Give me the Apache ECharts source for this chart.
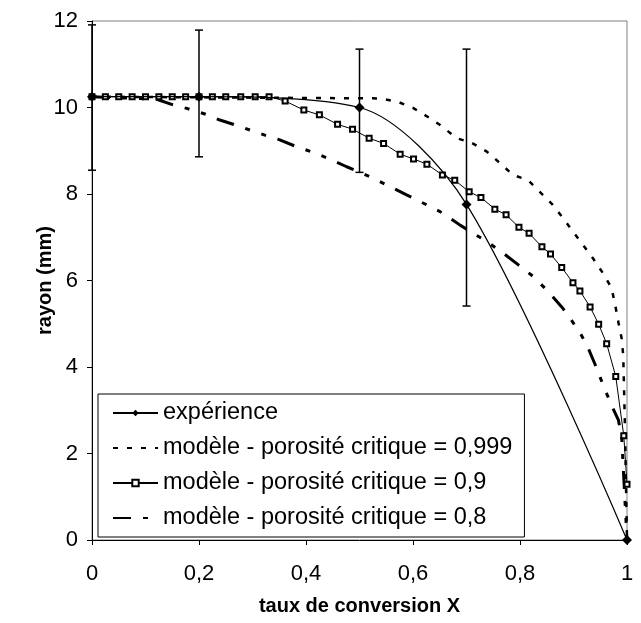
<!DOCTYPE html>
<html>
<head>
<meta charset="utf-8">
<script src="https://cdn.jsdelivr.net/npm/echarts@6/dist/echarts.min.js"></script>
<style>
  html, body { margin: 0; padding: 0; background: #fff; }
  #main { width: 641px; height: 623px; }
</style>
</head>
<body>
<div id="main"></div>
<script>
// expérience (points mesurés + barres d'erreur)
const expX = [0, 0.2, 0.5, 0.7, 1];
const expY = [10.25, 10.25, 10.0, 7.76, 0];
const errX = [0, 0.2, 0.5, 0.7];
const errLow = [8.55, 8.86, 8.5, 5.41];
const errHigh = [11.91, 11.79, 11.35, 11.35];

// modèle - porosité critique = 0,999
const m999X = [0, 0.538, 0.572, 0.600, 0.628, 0.650, 0.682, 0.710, 0.738, 0.763, 0.787, 0.815, 0.837, 0.859, 0.880, 0.899, 0.918, 0.936, 0.955, 0.971, 0.978, 0.984, 0.990, 0.993, 0.996, 1.0];
const m999Y = [10.25, 10.21, 10.13, 9.99, 9.78, 9.60, 9.29, 9.18, 8.98, 8.71, 8.44, 8.32, 8.05, 7.78, 7.45, 7.13, 6.82, 6.52, 6.17, 5.83, 5.43, 5.03, 4.66, 4.26, 2.71, 0];

// modèle - porosité critique = 0,9
const m09X = [0, 0.025, 0.05, 0.075, 0.1, 0.125, 0.15, 0.175, 0.2, 0.225, 0.25, 0.278, 0.305, 0.331,
  0.361, 0.396, 0.425, 0.459, 0.487, 0.518, 0.545, 0.576, 0.601, 0.626, 0.655, 0.678, 0.705, 0.727, 0.753,
  0.774, 0.798, 0.817, 0.841, 0.857, 0.878, 0.899, 0.912, 0.931, 0.947, 0.962, 0.979, 0.994, 1.0];
const m09Y = [10.25, 10.25, 10.25, 10.25, 10.25, 10.25, 10.25, 10.25, 10.25, 10.25, 10.25, 10.25, 10.25, 10.25,
  10.15, 9.94, 9.83, 9.61, 9.50, 9.29, 9.17, 8.92, 8.81, 8.69, 8.44, 8.32, 8.05, 7.92, 7.65,
  7.52, 7.23, 7.09, 6.78, 6.61, 6.30, 5.95, 5.76, 5.39, 4.99, 4.54, 3.78, 2.41, 1.29];

// modèle - porosité critique = 0,8
const m08X = [0, 0.121, 0.152, 0.177, 0.211, 0.239, 0.267, 0.295, 0.323, 0.351, 0.383, 0.414, 0.442, 0.476, 0.498,
  0.526, 0.551, 0.588, 0.632, 0.657, 0.688, 0.713, 0.738, 0.769, 0.797, 0.825, 0.850, 0.878, 0.909, 0.925,
  0.940, 0.959, 0.971, 0.984, 0.990, 1.0];
const m08Y = [10.25, 10.19, 10.06, 9.98, 9.85, 9.71, 9.60, 9.48, 9.36, 9.25, 9.09, 8.96, 8.82, 8.63, 8.52,
  8.36, 8.21, 7.98, 7.71, 7.55, 7.28, 7.09, 6.90, 6.63, 6.36, 6.09, 5.78, 5.39, 4.86, 4.51,
  4.07, 3.47, 3.12, 2.77, 2.39, 0];

const legendNames = ['expérience', 'modèle - porosité critique = 0,999', 'modèle - porosité critique = 0,9', 'modèle - porosité critique = 0,8'];

const font = 'Liberation Sans, Arial, sans-serif';
const pairs = (xs, ys) => xs.map((x, i) => [x, ys[i]]);

const chart = echarts.init(document.getElementById('main'));

const option = {
  animation: false,
  backgroundColor: '#fff',
  grid: {
    left: 92, right: 14, top: 21, bottom: 83,
    show: true, borderColor: '#808080', borderWidth: 1
  },
  legend: {
    // les séries sans marqueur : pas de rond dans la légende
    data: [
      { name: legendNames[0] },
      { name: legendNames[1], itemStyle: { opacity: 0 } },
      { name: legendNames[2] },
      { name: legendNames[3], itemStyle: { opacity: 0 } }
    ],
    orient: 'vertical',
    left: 98, top: 394,
    padding: [7, 12, 7, 14],
    itemGap: 11,
    itemWidth: 45, itemHeight: 8,
    backgroundColor: '#fff',
    borderColor: '#000', borderWidth: 1,
    textStyle: { fontFamily: font, fontSize: 23.5, color: '#000', lineHeight: 24 }
  },
  xAxis: {
    type: 'value', min: 0, max: 1, interval: 0.2,
    name: 'taux de conversion X', nameLocation: 'middle', nameGap: 56,
    nameMoveOverlap: false,
    nameTextStyle: { fontFamily: font, fontSize: 20, fontWeight: 'bold', color: '#000' },
    axisLine: { onZero: false, lineStyle: { color: '#000' } },
    axisTick: { length: 5, lineStyle: { color: '#000' } },
    axisLabel: {
      fontFamily: font, fontSize: 22, color: '#000', margin: 23,
      formatter: v => String(+v.toFixed(1)).replace('.', ',')
    },
    splitLine: { show: false }
  },
  yAxis: {
    type: 'value', min: 0, max: 12, interval: 2,
    name: 'rayon (mm)', nameLocation: 'middle', nameGap: 37,
    nameMoveOverlap: false,
    nameTextStyle: { fontFamily: font, fontSize: 20, fontWeight: 'bold', color: '#000' },
    axisLine: { show: true, onZero: false, lineStyle: { color: '#000' } },
    axisTick: { show: true, length: 5, lineStyle: { color: '#000' } },
    axisLabel: { fontFamily: font, fontSize: 22, color: '#000', margin: 14 },
    splitLine: { show: false }
  },
  series: [
    {
      name: legendNames[1], type: 'line', data: pairs(m999X, m999Y),
      symbol: 'none', z: 2,
      itemStyle: { color: '#000' },
      lineStyle: { color: '#000', width: 2.5, type: [5, 9] }
    },
    {
      name: legendNames[3], type: 'line', data: pairs(m08X, m08Y),
      symbol: 'none', z: 2,
      itemStyle: { color: '#000' },
      lineStyle: { color: '#000', width: 3, type: [18, 12, 5, 12, 5, 12] }
    },
    {
      name: legendNames[2], type: 'line', data: pairs(m09X, m09Y),
      symbol: 'emptyRect', symbolSize: 5, z: 3,
      itemStyle: { color: '#000', borderWidth: 1 },
      lineStyle: { color: '#000', width: 1 }
    },
    {
      name: legendNames[0], type: 'line', data: pairs(expX, expY),
      symbol: 'diamond', symbolSize: 10, smooth: 0.3, z: 4,
      itemStyle: { color: '#000' },
      lineStyle: { color: '#000', width: 1.2 }
    },
    {
      // barres d'erreur
      type: 'custom', z: 4, clip: false,
      data: errX.map((x, i) => [x, errLow[i], errHigh[i]]),
      renderItem: (params, api) => {
        const top = api.coord([api.value(0), api.value(2)]);
        const bot = api.coord([api.value(0), api.value(1)]);
        const w = 4;
        const st = { stroke: '#000', lineWidth: 1.5 };
        return {
          type: 'group',
          children: [
            { type: 'line', shape: { x1: top[0], y1: top[1], x2: bot[0], y2: bot[1] }, style: st },
            { type: 'line', shape: { x1: top[0] - w, y1: top[1], x2: top[0] + w, y2: top[1] }, style: st },
            { type: 'line', shape: { x1: bot[0] - w, y1: bot[1], x2: bot[0] + w, y2: bot[1] }, style: st }
          ]
        };
      }
    }
  ]
};

chart.setOption(option);
</script>
</body>
</html>
